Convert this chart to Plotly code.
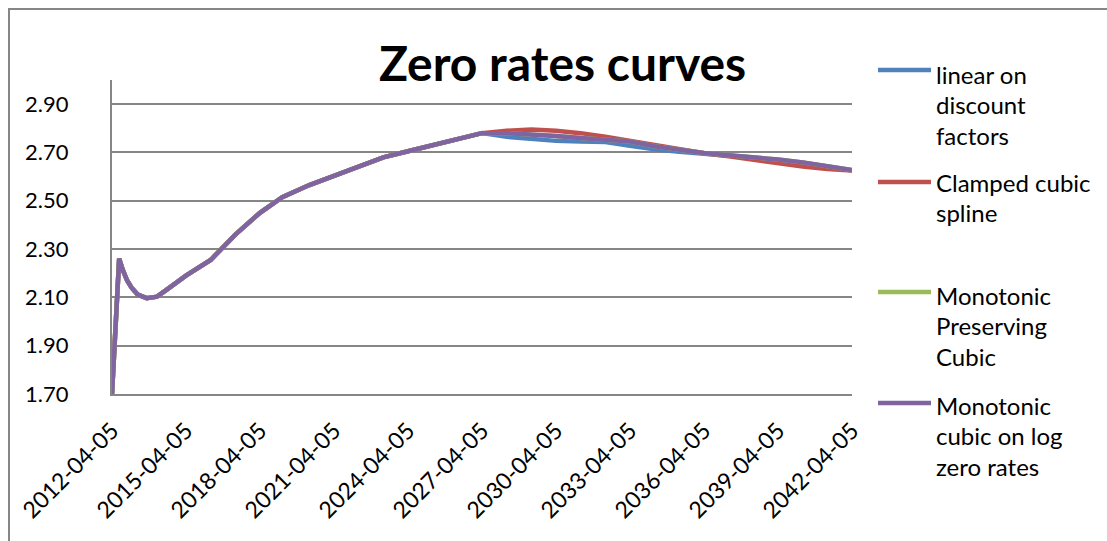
import plotly.graph_objects as go

# Common short end of the curve (all four interpolations agree here)
common_dates = [
    "2012-04-05", "2012-07-20", "2012-09-10", "2012-11-15", "2013-01-20",
    "2013-04-20", "2013-09-01", "2014-02-01", "2014-06-15", "2015-04-05",
    "2016-04-05", "2017-04-05", "2018-04-05", "2019-03-01", "2020-04-05",
    "2021-04-05", "2022-04-05", "2023-04-05", "2024-04-05", "2025-04-05",
    "2026-04-05", "2027-04-05",
]
common_rates = [
    1.70, 2.26, 2.215, 2.17, 2.14,
    2.112, 2.097, 2.103, 2.13, 2.19,
    2.255, 2.36, 2.45, 2.515, 2.565,
    2.605, 2.645, 2.68, 2.705, 2.73,
    2.755, 2.78,
]

# Long end, where the methods diverge slightly
tail_dates = [
    "2028-04-05", "2029-04-05", "2030-04-05", "2031-04-05", "2032-04-05",
    "2033-04-05", "2034-04-05", "2035-04-05", "2036-04-05", "2037-04-05",
    "2038-04-05", "2039-04-05", "2040-04-05", "2041-04-05", "2042-04-05",
]
linear_df_tail = [2.765, 2.755, 2.748, 2.745, 2.743, 2.728, 2.713, 2.703,
                  2.693, 2.686, 2.679, 2.670, 2.657, 2.642, 2.625]
clamped_tail = [2.790, 2.795, 2.790, 2.780, 2.765, 2.748, 2.730, 2.712,
                2.697, 2.684, 2.670, 2.655, 2.642, 2.632, 2.625]
mono_pres_tail = [2.780, 2.775, 2.768, 2.760, 2.752, 2.745, 2.726, 2.710,
                  2.698, 2.688, 2.680, 2.671, 2.659, 2.642, 2.627]
mono_log_tail = [2.780, 2.775, 2.768, 2.760, 2.752, 2.745, 2.726, 2.710,
                 2.698, 2.688, 2.680, 2.671, 2.659, 2.642, 2.627]

series_names = ["linear on discount factors", "Clamped cubic spline",
                "Monotonic Preserving Cubic", "Monotonic cubic on log zero rates"]
legend_lines = [["linear on", "discount", "factors"],
                ["Clamped cubic", "spline"],
                ["Monotonic", "Preserving", "Cubic"],
                ["Monotonic", "cubic on log", "zero rates"]]
series_tails = [linear_df_tail, clamped_tail, mono_pres_tail, mono_log_tail]
series_colors = ["#4F81BD", "#C0504D", "#9BBB59", "#8064A2"]

x_ticks = ["2012-04-05", "2015-04-05", "2018-04-05", "2021-04-05", "2024-04-05",
           "2027-04-05", "2030-04-05", "2033-04-05", "2036-04-05", "2039-04-05",
           "2042-04-05"]
y_ticks = [1.70, 1.90, 2.10, 2.30, 2.50, 2.70, 2.90]

FONT = "Lato"
W, H = 1107, 541
L, R, T, B = 112, 852, 80, 394


def px(x):
    return (x - L) / (R - L)


def py(y):
    return (B - y) / (B - T)


fig = go.Figure()
for name, tail, color in zip(series_names, series_tails, series_colors):
    fig.add_trace(go.Scatter(
        x=common_dates + tail_dates,
        y=common_rates + tail,
        mode="lines",
        name=name,
        line=dict(color=color, width=4.5),
        showlegend=False,
    ))

shapes = [
    # chart frame
    dict(type="rect", xref="paper", yref="paper",
         x0=px(9), x1=px(W + 10), y0=py(H + 10), y1=py(9),
         line=dict(color="#868686", width=2), layer="below"),
]
annotations = [
    dict(text="<b>Zero rates curves</b>", xref="paper", yref="paper",
         x=px(562), y=py(63), xanchor="center", yanchor="middle",
         showarrow=False, font=dict(family=FONT, size=48, color="black")),
]

# Legend: sample line + wrapped label for each series
sample_y = [70, 182, 292, 403]
text_top = [74, 182, 295, 405]
for color, lines, sy, ty in zip(series_colors, legend_lines, sample_y, text_top):
    shapes.append(dict(type="line", xref="paper", yref="paper",
                       x0=px(878), x1=px(931), y0=py(sy), y1=py(sy),
                       line=dict(color=color, width=4.5)))
    for i, ln in enumerate(lines):
        annotations.append(dict(text=ln, xref="paper", yref="paper",
                                x=px(934), y=py(ty + i * 30.5),
                                xanchor="left", yanchor="middle", showarrow=False,
                                font=dict(family=FONT, size=24, color="black")))

fig.update_layout(
    width=W, height=H,
    margin=dict(l=L, r=W - R, t=T, b=H - B, pad=0),
    paper_bgcolor="white", plot_bgcolor="white",
    font=dict(family=FONT, size=22, color="black"),
    shapes=shapes,
    annotations=annotations,
    showlegend=False,
)
fig.update_xaxes(
    type="date",
    range=["2012-04-05", "2042-04-05"],
    tickvals=x_ticks, ticktext=x_ticks,
    tickangle=-45,
    showgrid=False, zeroline=False,
    showline=True, linecolor="#868686", linewidth=2,
    ticks="", ticklabelstandoff=12,
    tickfont=dict(family=FONT, size=23, color="black"),
)
fig.update_yaxes(
    range=[1.70, 3.00],
    tickvals=y_ticks, ticktext=[f"{v:.2f}" for v in y_ticks],
    showgrid=True, gridcolor="#868686", gridwidth=2,
    zeroline=False,
    showline=True, linecolor="#868686", linewidth=2,
    ticks="", ticklabelstandoff=37,
    tickfont=dict(family=FONT, size=22, color="black"),
)

fig.write_html("out.html")
